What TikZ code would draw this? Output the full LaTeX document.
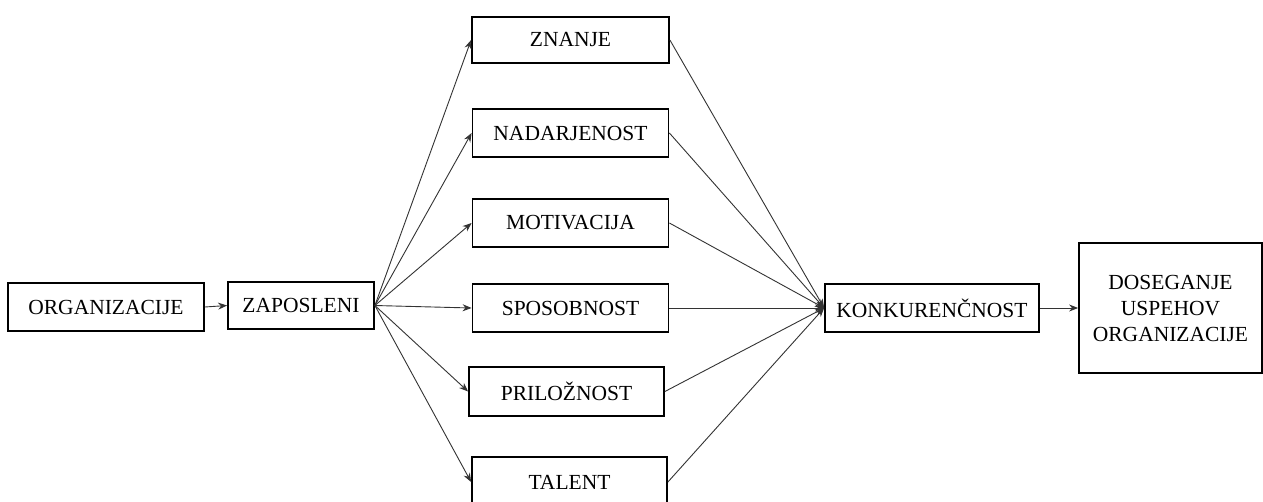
\documentclass[tikz,border=0pt]{standalone}
\usepackage{fontspec}
\setmainfont{Liberation Serif}
\usetikzlibrary{arrows.meta}
\begin{document}
\begin{tikzpicture}[x=1pt,y=-1pt,
  box/.style={draw=black,line width=1.8pt,fill=white,inner sep=0pt,align=center,
    font=\fontsize{21.5}{26}\selectfont},
  conn/.style={draw=black!80,line width=0.9pt,-{Stealth[length=9pt,width=7pt]}}]
\useasboundingbox (0,0) rectangle (1263,501);
\clip (0,0) rectangle (1263,501);
\fill[white] (0,0) rectangle (1263,501);
\node[box,minimum width=196pt,minimum height=48pt] (org) at (106,307) {ORGANIZACIJE};
\node[box,minimum width=146pt,minimum height=47pt] (zap) at (301,305.5) {ZAPOSLENI};
\node[box,minimum width=197pt,minimum height=46pt] (zn) at (570.5,40) {ZNANJE};
\node[box,minimum width=196pt,minimum height=48pt] (na) at (570.5,133) {NADARJENOST};
\node[box,minimum width=196pt,minimum height=48pt] (mo) at (570.5,223) {MOTIVACIJA};
\node[box,minimum width=196pt,minimum height=48pt] (sp) at (570.5,308) {SPOSOBNOST};
\node[box,minimum width=195pt,minimum height=49pt] (pr) at (566.5,391.5) {PRILOŽNOST};
\node[box,minimum width=195pt,minimum height=50pt] (ta) at (569.5,482) {TALENT};
\node[box,minimum width=214pt,minimum height=48pt] (ko) at (932,308) {KONKURENČNOST};
\node[box,minimum width=183pt,minimum height=130pt] (do) at (1170.5,308) {DOSEGANJE\\USPEHOV\\ORGANIZACIJE};
\draw[conn] (org.east) -- (zap.west);
\foreach \n in {zn,na,mo,sp,pr,ta} {
  \draw[conn] (zap.east) -- (\n.west);
  \draw[conn] (\n.east) -- (ko.west);
}
\draw[conn] (ko.east) -- (do.west);
\end{tikzpicture}
\end{document}
